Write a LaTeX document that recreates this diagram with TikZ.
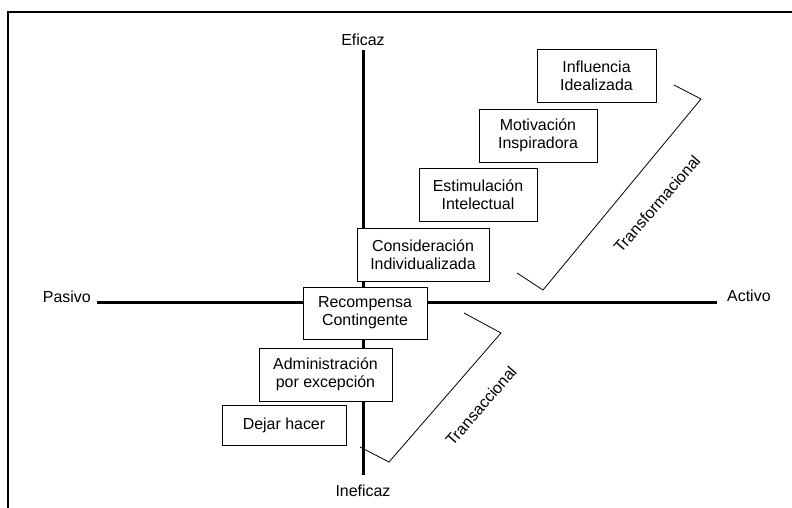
\documentclass[tikz,border=0pt]{standalone}
\usepackage{fontspec}
\setmainfont{Liberation Sans}
\usetikzlibrary{positioning}

\begin{document}
\begin{tikzpicture}[x=1bp,y=-1bp,font=\fontsize{16}{18}\selectfont,
    box/.style={draw,line width=0.8bp,fill=white,align=center,inner sep=0pt,minimum height=53bp},
    lbl/.style={inner sep=0pt},
    axis/.style={line width=3bp},
    brace/.style={line width=0.8bp}]
        \useasboundingbox (0,0) rectangle (792,508);
        \draw[line width=2bp] (8,508) -- (8,12);% frame
        \draw[line width=1.2bp] (7,12) -- (792,12);
        % axes
        \coordinate (N) at (363,50);
        \coordinate (S) at (363,475);
        \coordinate (W) at (97,302);
        \coordinate (E) at (717,302);
        \draw[axis] (N) -- (S);
        \draw[axis] (W) -- (E);
        \node[lbl,anchor=base] (eficaz) at ([yshift=4bp]N) {Eficaz};
        \node[lbl,anchor=base] (ineficaz) at ([yshift=-21bp]S) {Ineficaz};
        \node[lbl,anchor=base east] (pasivo) at ([xshift=-6bp,yshift=-1bp]W) {Pasivo};
        \node[lbl,anchor=base west] (activo) at ([xshift=10bp]E) {Activo};
        % styles of leadership
        \node[box,minimum width=119bp] (influencia) at (596.5,75.5) {Influencia\\Idealizada};
        \node[box,minimum width=118bp] (motivacion) at (538,135.5) {Motivación\\Inspiradora};
        \node[box,minimum width=118bp] (estimulacion) at (478,194.5) {Estimulación\\Intelectual};
        \node[box,minimum width=132bp] (consideracion) at (423,254.5) {Consideración\\Individualizada};
        \node[box,minimum width=124bp,minimum height=52bp] (recompensa) at (365,313) {Recompensa\\Contingente};
        \node[box,minimum width=133bp] (administracion) at (325.5,374.5) {Administración\\por excepción};
        \node[box,minimum width=124bp,minimum height=40bp] (dejar) at (284,425) {Dejar hacer};
        % brackets
        \draw[brace] (674,85) -- (701,99) -- (543,290) -- (517,273);
        \draw[brace] (464,313) -- (501,333) -- (389,462) -- (360,447);
        \node[lbl,rotate=49] (transformacional) at (657,204) {Transformacional};
        \node[lbl,rotate=49] (transaccional) at (481,406) {Transaccional};
    \end{tikzpicture}
\end{document}
